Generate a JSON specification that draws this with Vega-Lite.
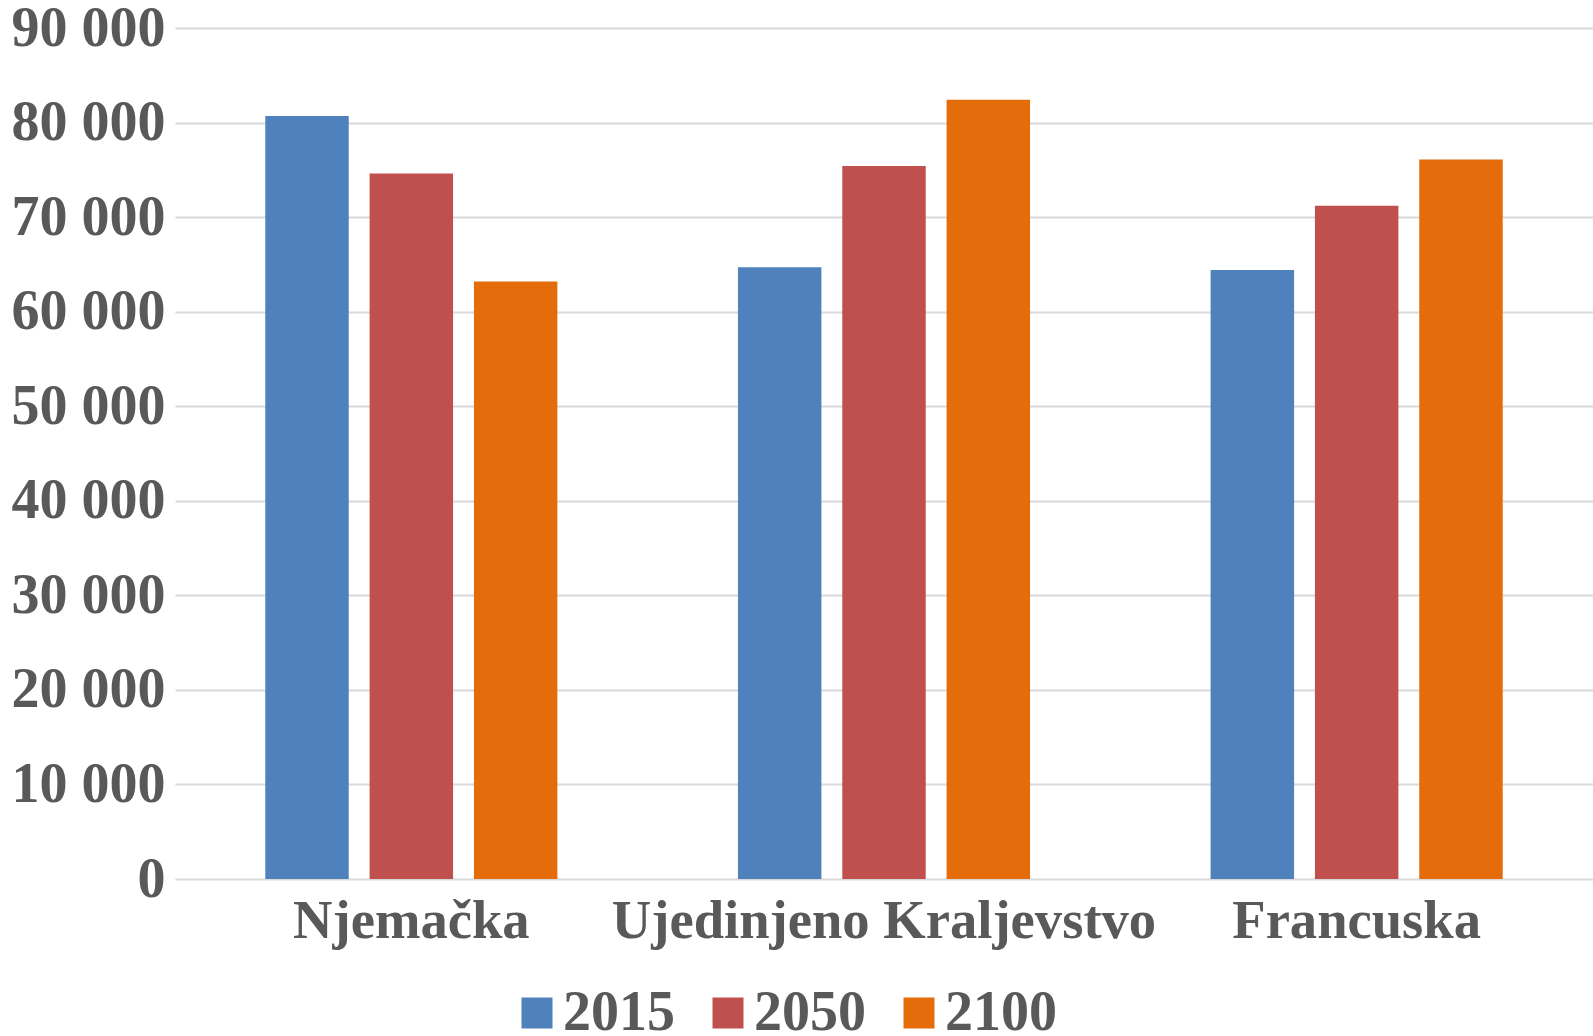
{
  "$schema": "https://vega.github.io/schema/vega-lite/v6.json",
  "autosize": {"type": "none"},
  "padding": {"left": 175, "top": 28, "right": 0, "bottom": 157},
  "width": 1418,
  "height": 851,
  "background": "white",
  "data": {
    "values": [
      {"zemlja": "Njemačka", "godina": "2015", "vrijednost": 80700},
      {"zemlja": "Njemačka", "godina": "2050", "vrijednost": 74600},
      {"zemlja": "Njemačka", "godina": "2100", "vrijednost": 63200},
      {"zemlja": "Ujedinjeno Kraljevstvo", "godina": "2015", "vrijednost": 64700},
      {"zemlja": "Ujedinjeno Kraljevstvo", "godina": "2050", "vrijednost": 75400},
      {"zemlja": "Ujedinjeno Kraljevstvo", "godina": "2100", "vrijednost": 82400},
      {"zemlja": "Francuska", "godina": "2015", "vrijednost": 64400},
      {"zemlja": "Francuska", "godina": "2050", "vrijednost": 71200},
      {"zemlja": "Francuska", "godina": "2100", "vrijednost": 76100}
    ]
  },
  "mark": {"type": "bar"},
  "encoding": {
    "x": {
      "field": "zemlja",
      "type": "nominal",
      "sort": ["Njemačka", "Ujedinjeno Kraljevstvo", "Francuska"],
      "scale": {"paddingInner": 0.382, "paddingOuter": 0.191},
      "axis": {
        "title": null,
        "labelAngle": 0,
        "labelFont": "Times New Roman",
        "labelFontWeight": "bold",
        "labelFontSize": 54.6,
        "labelColor": "#595959",
        "labelPadding": 15,
        "ticks": false,
        "domain": false,
        "grid": false,
        "labelLimit": 800
      }
    },
    "xOffset": {
      "field": "godina",
      "type": "nominal",
      "scale": {"paddingInner": 0.2, "paddingOuter": 0}
    },
    "y": {
      "field": "vrijednost",
      "type": "quantitative",
      "scale": {"domain": [0, 90000], "nice": false},
      "axis": {
        "title": null,
        "values": [0, 10000, 20000, 30000, 40000, 50000, 60000, 70000, 80000, 90000],
        "labelExpr": "replace(format(datum.value, ','), ',', ' ')",
        "labelFont": "Times New Roman",
        "labelFontWeight": "bold",
        "labelFontSize": 56,
        "labelColor": "#595959",
        "labelPadding": 10,
        "ticks": false,
        "domain": false,
        "grid": true,
        "gridColor": "#D9D9D9",
        "gridWidth": 2
      }
    },
    "color": {
      "field": "godina",
      "type": "nominal",
      "scale": {"domain": ["2015", "2050", "2100"], "range": ["#4F81BD", "#C0504D", "#E46C0A"]},
      "legend": {
        "title": null,
        "orient": "none",
        "direction": "horizontal",
        "legendX": 334,
        "legendY": 957,
        "padding": 0,
        "symbolType": "square",
        "symbolSize": 961,
        "symbolStrokeWidth": 0,
        "symbolOpacity": 1,
        "labelFont": "Times New Roman",
        "labelFontWeight": "bold",
        "labelFontSize": 56,
        "labelColor": "#595959",
        "labelOffset": -2,
        "columnPadding": 25,
        "labelLimit": 300
      }
    }
  },
  "config": {"view": {"stroke": null}}
}
